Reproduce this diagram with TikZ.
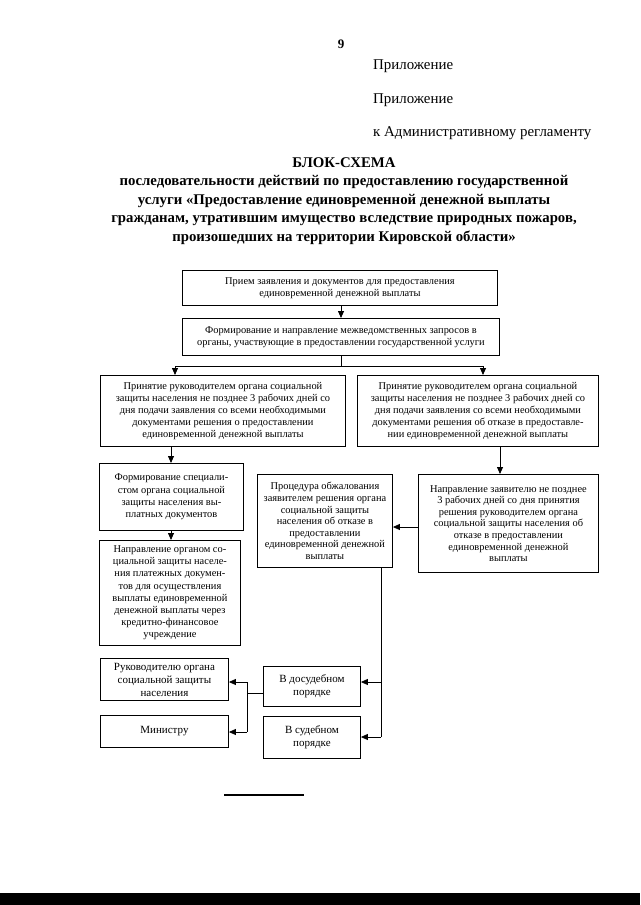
\documentclass[tikz,border=0pt]{standalone}
\usepackage{fontspec}
\setmainfont{Liberation Serif}
\usetikzlibrary{arrows.meta}
\begin{document}
\begin{tikzpicture}[x=1pt,y=-1pt,
  box/.style={draw, line width=0.9pt, anchor=north west, inner sep=1pt, align=center, font=\fontsize{10.4}{12.2}\selectfont},
  tight/.style={font=\fontsize{10.4}{11.6}\selectfont},
  big/.style={font=\fontsize{11}{13}\selectfont},
  arr/.style={-{Triangle[length=7pt,width=6pt]}, line width=0.8pt},
  ln/.style={line width=0.8pt},
  hdr/.style={anchor=base west, inner sep=0pt, font=\fontsize{14.9}{17}\selectfont}]
\path[use as bounding box, fill=white] (0,0) rectangle (640,905);

% header
\node[anchor=base, inner sep=0pt, font=\bfseries\fontsize{13}{15}\selectfont] (pg) at (341,48) {9};
\node[hdr] (h1) at (373,69) {Приложение};
\node[hdr] (h2) at (373,103) {Приложение};
\node[hdr] (h3) at (373,136) {к Административному регламенту};

\node[align=center, inner sep=0pt, font=\bfseries\fontsize{14.8}{18.5}\selectfont] (title) at (344,201)
 {БЛОК-СХЕМА\\последовательности действий по предоставлению государственной\\услуги «Предоставление единовременной денежной выплаты\\гражданам, утратившим имущество вследствие природных пожаров,\\произошедших на территории Кировской области»};

% boxes
\node[box, minimum width=315pt, minimum height=35pt] (b1) at (182,270)
 {Прием заявления и документов для предоставления\\единовременной денежной выплаты};
\node[box, minimum width=317pt, minimum height=37pt] (b2) at (182,318)
 {Формирование и направление межведомственных запросов в\\органы, участвующие в предоставлении государственной услуги};
\node[box, minimum width=245pt, minimum height=71pt] (b3) at (100,375)
 {Принятие руководителем органа социальной\\защиты населения не позднее 3 рабочих дней со\\дня подачи заявления со всеми необходимыми\\документами решения о предоставлении\\единовременной денежной выплаты};
\node[box, minimum width=241pt, minimum height=71pt] (b4) at (357,375)
 {Принятие руководителем органа социальной\\защиты населения не позднее 3 рабочих дней со\\дня подачи заявления со всеми необходимыми\\документами решения об отказе в предоставле-\\нии единовременной денежной выплаты};
\node[box, minimum width=144pt, minimum height=67pt] (b5) at (99,463)
 {Формирование специали-\\стом органа социальной\\защиты населения вы-\\платных документов};
\node[box, minimum width=141pt, minimum height=105pt] (b6) at (99,540)
 {Направление органом со-\\циальной защиты населе-\\ния платежных докумен-\\тов для осуществления\\выплаты единовременной\\денежной выплаты через\\кредитно-финансовое\\учреждение};
\node[box, tight, minimum width=180pt, minimum height=98pt] (b7) at (418,474)
 {Направление заявителю не позднее\\3 рабочих дней со дня принятия\\решения руководителем органа\\социальной защиты населения об\\отказе в предоставлении\\единовременной денежной\\выплаты};
\node[box, tight, minimum width=135pt, minimum height=93pt] (b8) at (257,474)
 {Процедура обжалования\\заявителем решения органа\\социальной защиты\\населения об отказе в\\предоставлении\\единовременной денежной\\выплаты};
\node[box, big, minimum width=97pt, minimum height=40pt] (b9) at (263,666)
 {В досудебном\\порядке};
\node[box, big, minimum width=97pt, minimum height=42pt] (b10) at (263,716)
 {В судебном\\порядке};
\node[box, big, minimum width=128pt, minimum height=42pt] (b11) at (100,658)
 {Руководителю органа\\социальной защиты\\населения};
\node[box, big, minimum width=128pt, minimum height=32pt] (b12) at (100,715)
 {Министру};

% connectors
\coordinate (xa) at (341,0);
\draw[arr] (b1.south -| xa) -- (b2.north -| xa);
\coordinate (jL) at (175,366);
\coordinate (jR) at (483,366);
\coordinate (jM) at (341,366);
\draw[ln] (b2.south -| xa) -- (jM);
\draw[ln] (jL) -- (jR);
\draw[arr] (jL) -- (b3.north -| jL);
\draw[arr] (jR) -- (b4.north -| jR);
\coordinate (xb) at (171,0);
\draw[arr] (b3.south -| xb) -- (b5.north -| xb);
\draw[arr] (b5.south -| xb) -- (b6.north -| xb);
\coordinate (xc) at (500,0);
\draw[arr] (b4.south -| xc) -- (b7.north -| xc);
\coordinate (yc) at (0,527);
\draw[arr] (b7.west |- yc) -- (b8.east |- yc);
\coordinate (xd) at (381,0);
\coordinate (vd) at (381,737);
\draw[ln] (b8.south -| xd) -- (vd);
\coordinate (y9) at (0,682);
\draw[arr] (xd |- y9) -- (b9.east |- y9);
\draw[arr] (vd) -- (b10.east |- vd);
\coordinate (ye) at (0,693);
\coordinate (xe) at (247,0);
\draw[ln] (b9.west |- ye) -- (xe |- ye);
\coordinate (ya) at (0,682);
\coordinate (yb) at (0,732);
\draw[ln] (xe |- ya) -- (xe |- yb);
\draw[arr] (xe |- ya) -- (b11.east |- ya);
\draw[arr] (xe |- yb) -- (b12.east |- yb);

% footer
\draw[line width=1.2pt] (224,795) -- (304,795);
\fill (0,893) rectangle (640,905);
\end{tikzpicture}
\end{document}
